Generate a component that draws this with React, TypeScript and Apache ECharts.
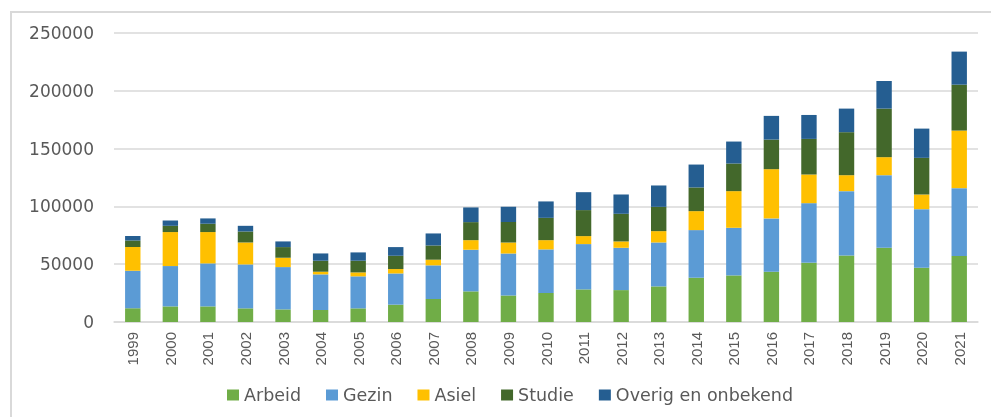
import React, { useEffect, useRef } from "react";
import * as echarts from "echarts";

const years = ["1999","2000","2001","2002","2003","2004","2005","2006","2007","2008","2009","2010","2011","2012","2013","2014","2015","2016","2017","2018","2019","2020","2021"];
const arbeid = [11800,13500,13500,11800,10900,10400,11800,15000,19900,26500,23000,25100,28200,27600,30800,38300,40300,43500,51300,57600,64200,46900,57000];
const gezin = [32500,34900,37200,38000,36600,30800,27700,27000,29100,36000,36300,37700,39200,36600,38000,41200,41200,46100,51500,55600,62800,50700,58800];
const asiel = [20500,29400,27100,19000,8100,2300,3400,3800,4900,8300,9500,8000,6900,5500,9800,16400,31700,42600,24800,13800,15600,12700,49800];
const studie = [5800,5400,7200,9500,9200,9500,10100,11500,12300,15600,17600,19300,22500,23900,21000,20500,23900,25600,30800,37200,42000,31700,39700];
const overig = [3700,4600,4600,4900,4900,6300,7200,7500,10400,12700,13200,14200,15500,16700,18500,19800,19000,20500,20700,20400,23900,25300,28600];

const seriesNames = ["Arbeid", "Gezin", "Asiel", "Studie", "Overig en onbekend"];
const seriesData = [arbeid, gezin, asiel, studie, overig];
const colors = ["#70AD47", "#5B9BD5", "#FFC000", "#43682B", "#255E91"];

export default function App() {
  const ref = useRef<HTMLDivElement>(null);
  useEffect(() => {
    if (!ref.current) return;
    const chart = echarts.init(ref.current, null, { renderer: "svg" });
    chart.setOption({
      animation: false,
      color: colors,
      graphic: [
        {
          type: "rect",
          shape: { x: 11, y: 12, width: 1000, height: 500 },
          style: { fill: "none", stroke: "#d9d9d9", lineWidth: 2 },
          silent: true,
        },
      ],
      grid: { left: 114, right: 13, top: 33, bottom: 95, containLabel: false },
      legend: {
        top: 386,
        left: 227,
        padding: 0,
        itemWidth: 12,
        itemHeight: 11,
        itemGap: 25,
        icon: "rect",
        textStyle: { color: "#595959", fontSize: 17.5, fontFamily: "'DejaVu Sans', sans-serif" },
        data: seriesNames,
      },
      xAxis: {
        type: "category",
        data: years,
        axisLine: { lineStyle: { color: "#d9d9d9", width: 1.5 } },
        axisTick: { show: false },
        axisLabel: {
          rotate: 90,
          margin: 10,
          color: "#595959",
          fontSize: 15,
          fontFamily: "'Liberation Sans', sans-serif",
        },
      },
      yAxis: {
        type: "value",
        min: 0,
        max: 250000,
        interval: 50000,
        axisLine: { show: false },
        axisTick: { show: false },
        splitLine: { lineStyle: { color: "#d9d9d9", width: 1.5 } },
        axisLabel: {
          margin: 20,
          color: "#595959",
          fontSize: 17,
          fontFamily: "'DejaVu Sans', sans-serif",
          formatter: (v: number) => String(v),
        },
      },
      series: seriesNames.map((name, i) => ({
        name,
        type: "bar",
        stack: "total",
        barWidth: "41%",
        data: seriesData[i],
        itemStyle: { color: colors[i] },
      })),
    });
    return () => chart.dispose();
  }, []);
  return <div ref={ref} style={{ position: "fixed", left: 0, top: 0, width: 991, height: 417 }} />;
}
